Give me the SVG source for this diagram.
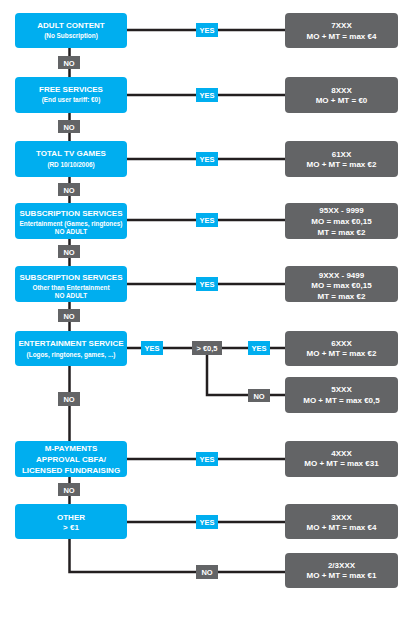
<svg xmlns="http://www.w3.org/2000/svg" width="415" height="618" viewBox="0 0 415 618">
<style>
.q{fill:#00AEEF}
.r{fill:#636466}
.t{font-family:"Liberation Sans",Arial,sans-serif;font-weight:bold;fill:#fff;text-anchor:middle}
.h{font-size:8px}
.s{font-size:6.4px}
.l{font-size:7.5px}
.c{fill:none;stroke:#231F20;stroke-width:2.5}
</style>
<rect width="415" height="618" fill="#fff"/>
<g id="connectors">
<path class="c" d="M69.5 48V572H285"/>
<path class="c" d="M127 30H285M127 95H285M127 159H285M127 220H285M127 284H285M127 348H285M127 459H285M127 522H285"/>
<path class="c" d="M207 348V395H285"/>
</g>
<g id="n1"><rect class="q" x="15" y="13" width="112" height="35" rx="4"/><text class="t h" x="71" y="28">ADULT CONTENT</text><text class="t s" x="71" y="37.5">(No Subscription)</text></g>
<g id="r1"><rect class="r" x="285" y="13" width="113" height="35" rx="4"/><text class="t h" x="341.5" y="28">7XXX</text><text class="t h" x="341.5" y="38.5">MO + MT = max €4</text></g>
<g id="n2"><rect class="q" x="15" y="77" width="112" height="36" rx="4"/><text class="t h" x="71" y="92.3">FREE SERVICES</text><text class="t s" x="71" y="102">(End user tariff: €0)</text></g>
<g id="r2"><rect class="r" x="285" y="77" width="113" height="36" rx="4"/><text class="t h" x="341.5" y="92.5">8XXX</text><text class="t h" x="341.5" y="102.5">MO + MT = €0</text></g>
<g id="n3"><rect class="q" x="15" y="141" width="112" height="36" rx="4"/><text class="t h" x="71" y="156">TOTAL TV GAMES</text><text class="t s" x="71" y="167">(RD 10/10/2006)</text></g>
<g id="r3"><rect class="r" x="285" y="141" width="113" height="36" rx="4"/><text class="t h" x="341.5" y="156.5">61XX</text><text class="t h" x="341.5" y="166.5">MO + MT = max €2</text></g>
<g id="n4"><rect class="q" x="15" y="203" width="112" height="36" rx="4"/><text class="t h" x="71" y="216">SUBSCRIPTION SERVICES</text><text class="t s" x="71" y="226">Entertainment (Games, ringtones)</text><text class="t s" x="71" y="234">NO ADULT</text></g>
<g id="r4"><rect class="r" x="285" y="203" width="113" height="36" rx="4"/><text class="t h" x="341.5" y="213">95XX - 9999</text><text class="t h" x="341.5" y="224">MO = max €0,15</text><text class="t h" x="341.5" y="234.5">MT = max €2</text></g>
<g id="n5"><rect class="q" x="15" y="266" width="112" height="36" rx="4"/><text class="t h" x="71" y="280">SUBSCRIPTION SERVICES</text><text class="t s" x="71" y="290">Other than Entertainment</text><text class="t s" x="71" y="298">NO ADULT</text></g>
<g id="r5"><rect class="r" x="285" y="266" width="113" height="36" rx="4"/><text class="t h" x="341.5" y="277.5">9XXX - 9499</text><text class="t h" x="341.5" y="288">MO = max €0,15</text><text class="t h" x="341.5" y="298.5">MT = max €2</text></g>
<g id="n6"><rect class="q" x="15" y="331" width="112" height="35" rx="4"/><text class="t h" x="71" y="346">ENTERTAINMENT SERVICE</text><text class="t s" x="71" y="356.5">(Logos, ringtones, games, ...)</text></g>
<g id="r6"><rect class="r" x="285" y="331" width="113" height="35" rx="4"/><text class="t h" x="341.5" y="345.5">6XXX</text><text class="t h" x="341.5" y="356">MO + MT = max €2</text></g>
<g id="r7"><rect class="r" x="285" y="377" width="113" height="36" rx="4"/><text class="t h" x="341.5" y="392">5XXX</text><text class="t h" x="341.5" y="402.5">MO + MT = max €0,5</text></g>
<g id="n8"><rect class="q" x="15" y="441" width="112" height="36" rx="4"/><text class="t h" x="71" y="451">M-PAYMENTS</text><text class="t h" x="71" y="462">APPROVAL CBFA/</text><text class="t h" x="71" y="472.5">LICENSED FUNDRAISING</text></g>
<g id="r8"><rect class="r" x="285" y="441" width="113" height="36" rx="4"/><text class="t h" x="341.5" y="455.5">4XXX</text><text class="t h" x="341.5" y="466">MO + MT = max €31</text></g>
<g id="n9"><rect class="q" x="15" y="504" width="112" height="35" rx="4"/><text class="t h" x="71" y="519.5">OTHER</text><text class="t h" x="71" y="530">&gt; €1</text></g>
<g id="r9"><rect class="r" x="285" y="504" width="113" height="35" rx="4"/><text class="t h" x="341.5" y="519.5">3XXX</text><text class="t h" x="341.5" y="530">MO + MT = max €4</text></g>
<g id="r10"><rect class="r" x="285" y="553" width="113" height="35" rx="4"/><text class="t h" x="341.5" y="568">2/3XXX</text><text class="t h" x="341.5" y="578">MO + MT = max €1</text></g>
<g id="labels">
<rect class="q" x="196" y="23" width="22" height="14"/><text class="t l" x="207" y="33">YES</text>
<rect class="q" x="196" y="88" width="22" height="14"/><text class="t l" x="207" y="98">YES</text>
<rect class="q" x="196" y="152" width="22" height="14"/><text class="t l" x="207" y="162">YES</text>
<rect class="q" x="196" y="213" width="22" height="14"/><text class="t l" x="207" y="223">YES</text>
<rect class="q" x="196" y="277" width="22" height="14"/><text class="t l" x="207" y="287">YES</text>
<rect class="q" x="141" y="341" width="22" height="14"/><text class="t l" x="152" y="351">YES</text>
<rect class="r" x="192" y="341" width="30" height="14"/><text class="t l" x="207" y="351">&gt; €0,5</text>
<rect class="q" x="248" y="341" width="22" height="14"/><text class="t l" x="259" y="351">YES</text>
<rect class="r" x="248" y="389" width="22" height="13"/><text class="t l" x="259" y="398.5">NO</text>
<rect class="q" x="196" y="452" width="22" height="14"/><text class="t l" x="207" y="462">YES</text>
<rect class="q" x="196" y="515" width="22" height="14"/><text class="t l" x="207" y="525">YES</text>
<rect class="r" x="196" y="565" width="22" height="14"/><text class="t l" x="207" y="575">NO</text>
<rect class="r" x="58" y="56" width="22" height="13"/><text class="t l" x="69" y="65.5">NO</text>
<rect class="r" x="58" y="120" width="22" height="13"/><text class="t l" x="69" y="129.5">NO</text>
<rect class="r" x="58" y="183" width="22" height="13"/><text class="t l" x="69" y="192.5">NO</text>
<rect class="r" x="58" y="245" width="22" height="13"/><text class="t l" x="69" y="254.5">NO</text>
<rect class="r" x="58" y="309" width="22" height="13"/><text class="t l" x="69" y="318.5">NO</text>
<rect class="r" x="58" y="392" width="22" height="14"/><text class="t l" x="69" y="402">NO</text>
<rect class="r" x="58" y="483" width="22" height="13"/><text class="t l" x="69" y="492.5">NO</text>
</g>
</svg>
